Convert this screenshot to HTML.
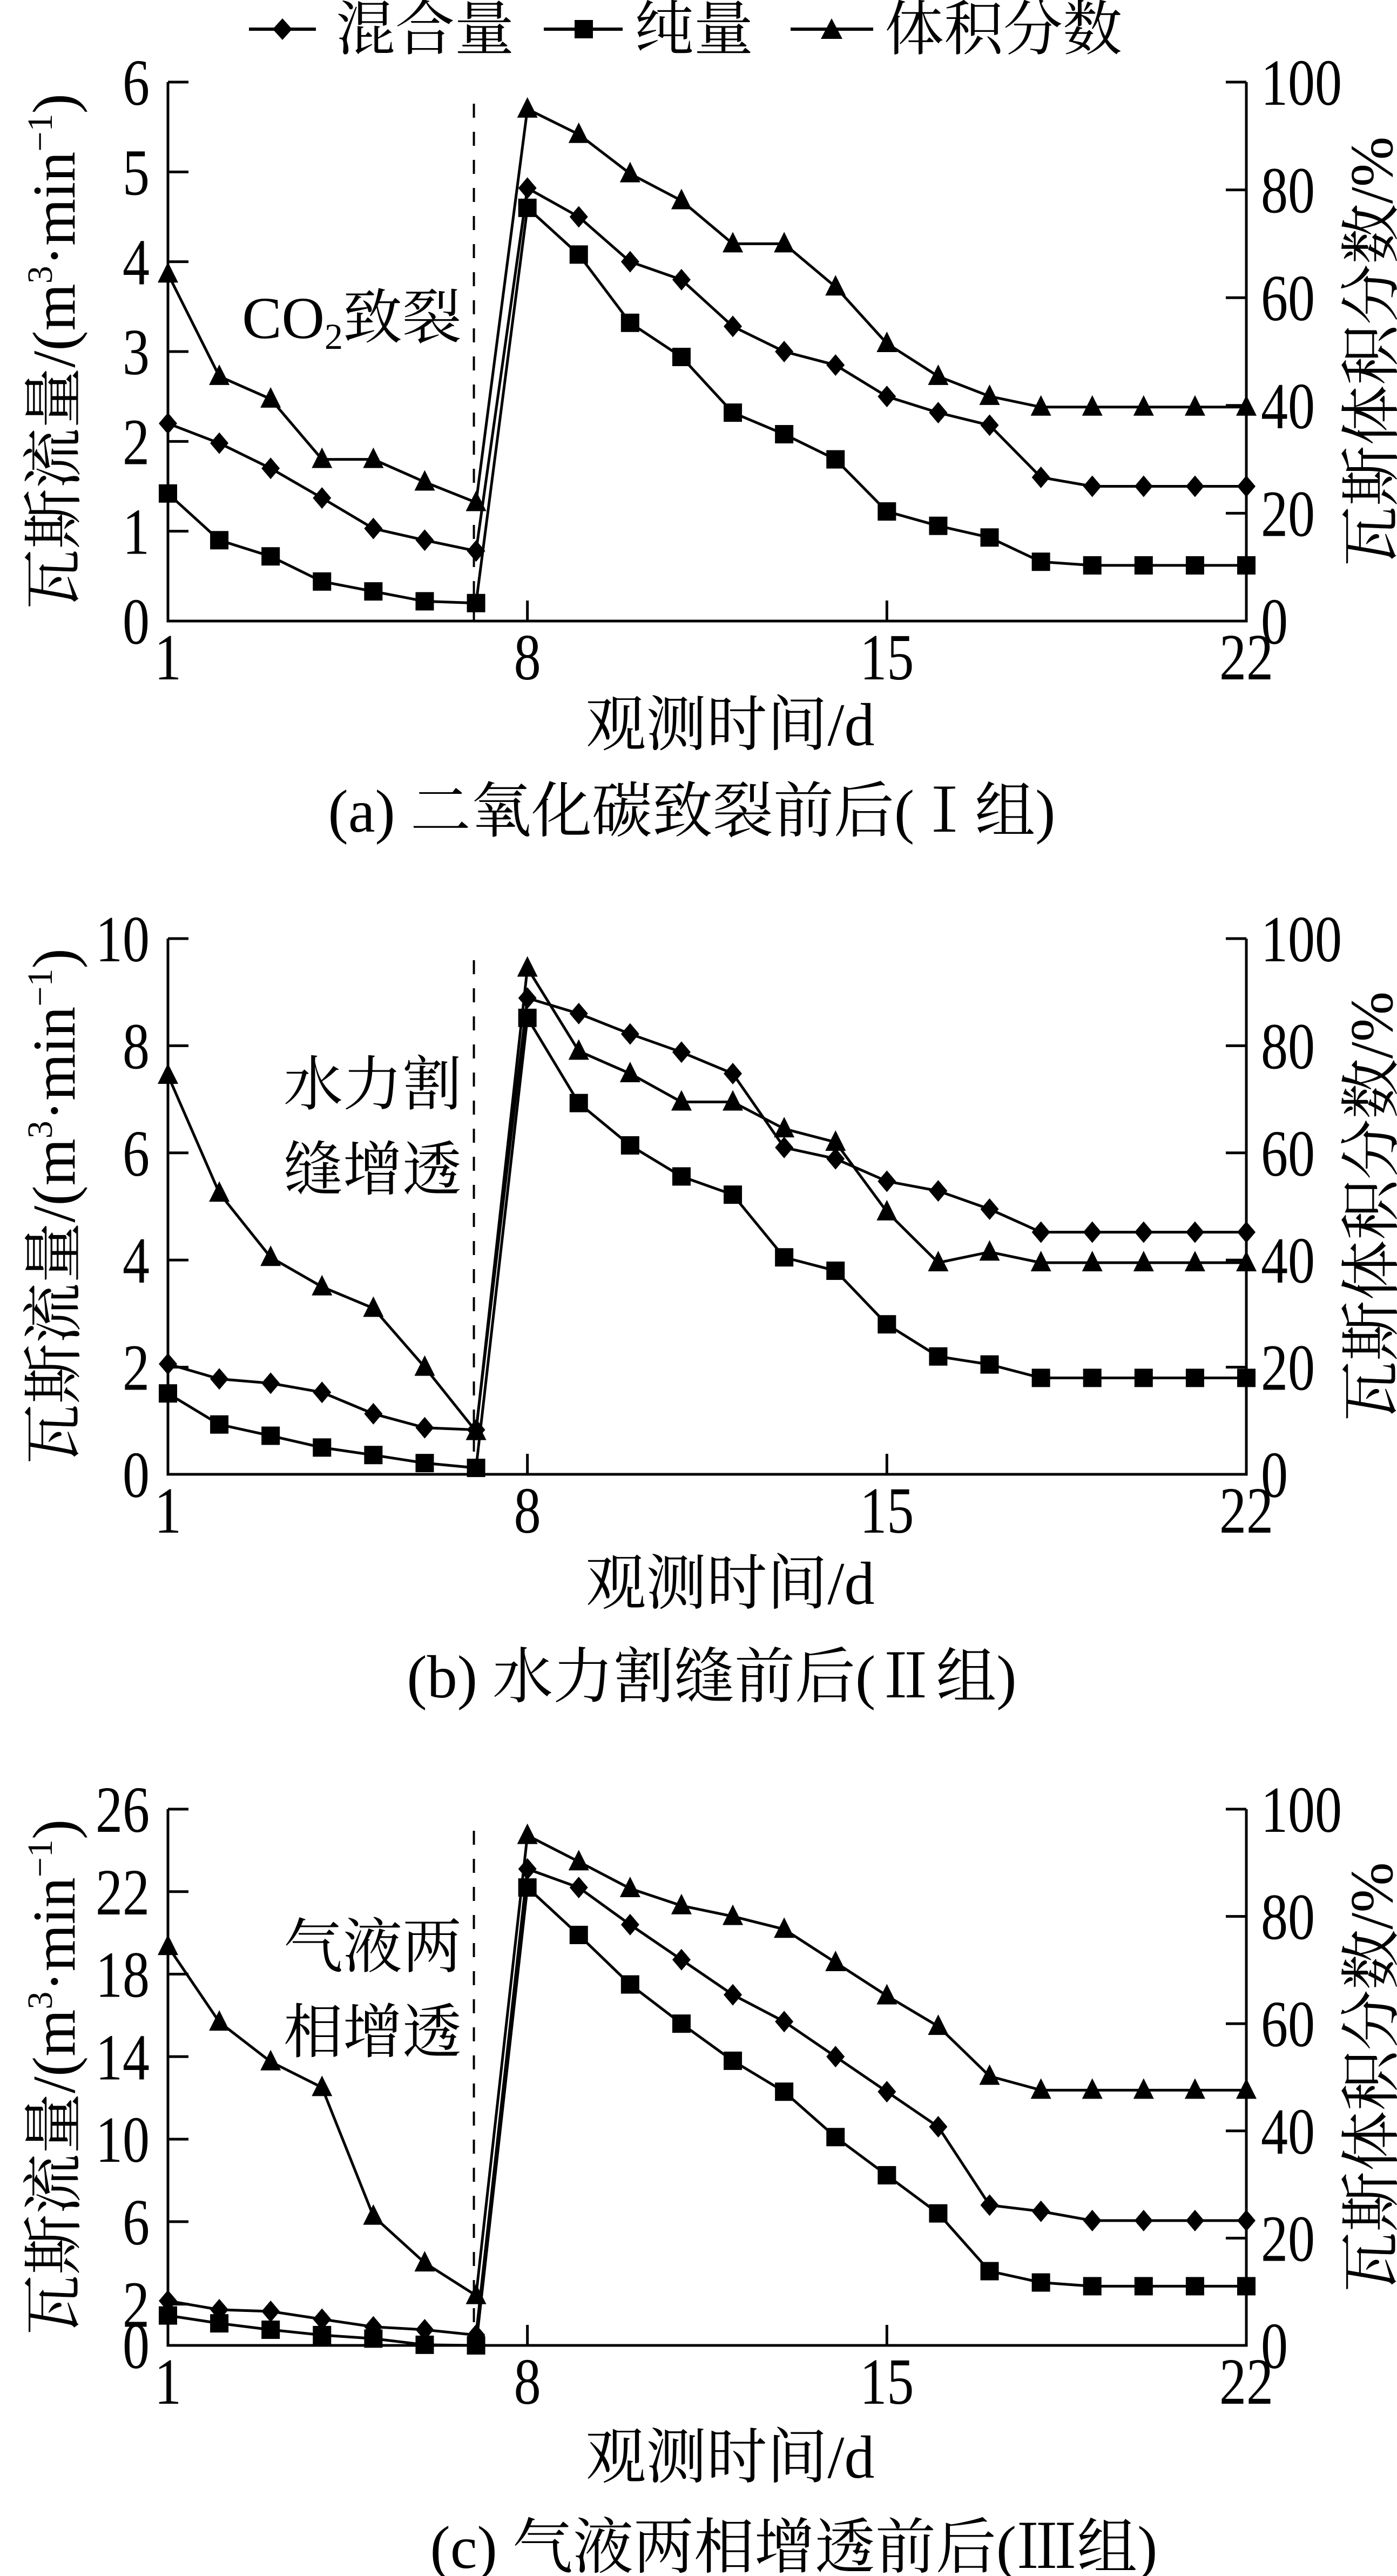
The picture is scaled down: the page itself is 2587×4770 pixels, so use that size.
<!DOCTYPE html>
<html><head><meta charset="utf-8">
<style>
html,body{margin:0;padding:0;background:#fff;}
svg{display:block;}
text{font-family:"Liberation Serif","Noto Serif CJK SC",serif;fill:#000;}
</style></head>
<body>
<svg id="chart" width="2587" height="4770" viewBox="0 0 2587 4770" xmlns="http://www.w3.org/2000/svg">
<g id="legend">
  <g>
    <line x1="461" y1="54" x2="585" y2="54" stroke="#000" stroke-width="6"/>
    <polygon points="523,34 541,54 523,74 505,54" fill="#000"/>
    <text x="622" y="92" font-size="110">混合量</text>
  </g>
  <g>
    <line x1="1007" y1="54" x2="1153" y2="54" stroke="#000" stroke-width="6"/>
    <rect x="1064" y="37" width="34" height="34" fill="#000"/>
    <text x="1175" y="92" font-size="110">纯量</text>
  </g>
  <g>
    <line x1="1464" y1="54" x2="1617" y2="54" stroke="#000" stroke-width="6"/>
    <polygon points="1540,34 1560,72 1520,72" fill="#000"/>
    <text x="1638" y="92" font-size="110">体积分数</text>
  </g>
</g>
</svg>
<script>
// Panel (a)
const daysA = [1,2,3,4,5,6,7,8,9,10,11,12,13,14,15,16,17,18,19,20,21,22];
const mixedA = [2.2,1.98,1.7,1.37,1.03,0.9,0.78,4.82,4.5,4.0,3.8,3.28,3.0,2.85,2.5,2.32,2.18,1.6,1.5,1.5,1.5,1.5];
const pureA = [1.42,0.9,0.72,0.44,0.33,0.22,0.2,4.6,4.08,3.32,2.94,2.32,2.08,1.8,1.22,1.06,0.93,0.66,0.62,0.62,0.62,0.62];
const volA = [64.4,45.4,41.2,30,30,25.8,22,95,90.3,83,78,70,70,62,51.5,45.4,41.7,39.7,39.7,39.7,39.7,39.7];
const leftTicksA = [0,1,2,3,4,5,6];
// Panel (b)
const mixedB = [2.06,1.78,1.7,1.53,1.13,0.87,0.83,8.89,8.6,8.22,7.88,7.48,6.1,5.89,5.47,5.29,4.95,4.52,4.52,4.52,4.52,4.52];
const pureB = [1.51,0.93,0.72,0.5,0.36,0.21,0.12,8.52,6.93,6.14,5.56,5.22,4.05,3.8,2.8,2.2,2.05,1.8,1.8,1.8,1.8,1.8];
const volB = [74.5,52.5,40.5,35,31,20,8,94.5,79,74.8,69.5,69.5,64.5,62,49,39.5,41.5,39.5,39.5,39.5,39.5,39.5];
const leftTicksB = [0,2,4,6,8,10];
// Panel (c)
const mixedC = [2.16,1.73,1.65,1.27,0.9,0.76,0.5,23.1,22.2,20.4,18.7,17,15.7,14,12.3,10.6,6.8,6.5,6.05,6.05,6.05,6.05];
const pureC = [1.45,1.07,0.76,0.5,0.33,0.03,0,22.2,19.9,17.5,15.6,13.8,12.3,10.1,8.25,6.4,3.6,3.05,2.87,2.87,2.87,2.87];
const volC = [74.4,60.3,52.9,48.1,24.1,15.4,9.3,95.1,90.2,85.2,82,80,77.6,71.4,65.2,59.5,50.2,47.6,47.6,47.6,47.6,47.6];
const leftTicksC = [0,2,6,10,14,18,22,26];
const rightTicks = [0,20,40,60,80,100];
const xTickLabels = [1,8,15,22];
const svg = document.getElementById('chart');
const NS = 'http://www.w3.org/2000/svg';
function mk(tag, attrs, parent){const e=document.createElementNS(NS,tag);for(const k in attrs)e.setAttribute(k,attrs[k]);parent.appendChild(e);return e;}
const X0=311, X1=2308;
function xs(d){return X0+(d-1)*(X1-X0)/21;}
function panel(cfg){
  const g=mk('g',{},svg);
  
  
  const T=cfg.top,B=cfg.bottom,ymax=cfg.ymax;
  const yl=v=>B-(v/ymax)*(B-T);
  const yr=v=>B-(v/100)*(B-T);
  const ax=mk('path',{d:`M${X0},${T} V${B} H${X1} V${T}`,fill:'none',stroke:'#000','stroke-width':5},g);
  
  
  cfg.leftTicks.forEach(v=>{
    const y=yl(v);
    mk('line',{x1:X0,y1:y,x2:X0+38,y2:y,stroke:'#000','stroke-width':5},g);
    const t=mk('text',{x:0,y:0,'font-size':100,'text-anchor':'end',transform:`translate(277,${y+42}) scale(1,1.22)`},g);
    t.textContent=v;
    
    
  });
  rightTicks.forEach(v=>{
    const y=yr(v);
    mk('line',{x1:X1,y1:y,x2:X1-38,y2:y,stroke:'#000','stroke-width':5},g);
    const t=mk('text',{x:0,y:0,'font-size':100,transform:`translate(2335,${y+42}) scale(1,1.22)`},g);
    t.textContent=v;
    
    
  });
  xTickLabels.forEach(d=>{
    const x=xs(d);
    if(d!==1&&d!==22) mk('line',{x1:x,y1:B,x2:x,y2:B-38,stroke:'#000','stroke-width':5},g);
    const t=mk('text',{x:0,y:0,'font-size':100,'text-anchor':'middle',transform:`translate(${x},${B+108}) scale(1,1.22)`},g);
    t.textContent=d;
    
    
  });
  const dl=mk('line',{x1:xs(7)-4,y1:T+40,x2:xs(7)-4,y2:B,stroke:'#000','stroke-width':4,'stroke-dasharray':'26 26'},g);
  
  
  const series=[
    {name:'mixed',vals:cfg.mixed,f:yl,m:'diamond'},
    {name:'pure',vals:cfg.pure,f:yl,m:'square'},
    {name:'volume',vals:cfg.vol,f:yr,m:'triangle'}];
  series.forEach(s=>{
    const sg=mk('g',{},g);
    
    
    const pts=s.vals.map((v,i)=>[xs(daysA[i]),s.f(v)]);
    mk('polyline',{points:pts.map(p=>p.join(',')).join(' '),fill:'none',stroke:'#000','stroke-width':5,'stroke-linejoin':'round'},sg);
    pts.forEach(([x,y])=>{
      let e;
      if(s.m==='diamond') e=mk('polygon',{points:`${x},${y-20} ${x+17},${y} ${x},${y+20} ${x-17},${y}`,fill:'#000'},sg);
      else if(s.m==='square') e=mk('rect',{x:x-17,y:y-17,width:34,height:34,fill:'#000'},sg);
      else e=mk('polygon',{points:`${x},${y-22} ${x+19},${y+16} ${x-19},${y+16}`,fill:'#000'},sg);
      
      
    });
  });
  cfg.note.forEach((ln,i)=>{
    const t=mk('text',{x:855,y:cfg.noteY+i*158+38,'font-size':110,'text-anchor':'end'},g);
    t.innerHTML=ln;
    
    
  });
  const cy=(T+B)/2;
  const lt=mk('text',{x:0,y:0,'font-size':112,'text-anchor':'middle',transform:`translate(138,${cy}) rotate(-90)`},g);
  lt.innerHTML='瓦斯流量/(m<tspan font-size="66" dy="-42">3</tspan><tspan dy="42">·min</tspan><tspan font-size="66" dy="-42">−1</tspan><tspan dy="42">)</tspan>';
  
  
  const rt=mk('text',{x:0,y:0,'font-size':112,'text-anchor':'middle',transform:`translate(2578,${cy}) rotate(-90)`},g);
  rt.textContent='瓦斯体积分数/%';
  
  
  const xt=mk('text',{x:1352,y:cfg.xTitleY+40,'font-size':112,'text-anchor':'middle'},g);
  xt.textContent='观测时间/d';
  
  
  const cp=mk('text',{x:cfg.capX,y:cfg.capY+40,'font-size':112,'text-anchor':'middle'},g);
  cp.textContent=cfg.caption;
  
  
}
panel({id:'a',top:152,bottom:1150,ymax:6,leftTicks:leftTicksA,mixed:mixedA,pure:pureA,vol:volA,
  note:['CO<tspan font-size="68" dy="20">2</tspan><tspan dy="-20">致裂</tspan>'],noteY:588,xTitleY:1340,capX:1281,capY:1500,caption:'(a) 二氧化碳致裂前后(Ⅰ组)'});
panel({id:'b',top:1738,bottom:2730,ymax:10,leftTicks:leftTicksB,mixed:mixedB,pure:pureB,vol:volB,
  note:['水力割','缝增透'],noteY:2008,xTitleY:2930,capX:1318,capY:3103,caption:'(b) 水力割缝前后(Ⅱ组)'});
panel({id:'c',top:3350,bottom:4343,ymax:26,leftTicks:leftTicksC,mixed:mixedC,pure:pureC,vol:volC,
  note:['气液两','相增透'],noteY:3605,xTitleY:4548,capX:1470,capY:4715,caption:'(c) 气液两相增透前后(Ⅲ组)'});
</script>
</body></html>
